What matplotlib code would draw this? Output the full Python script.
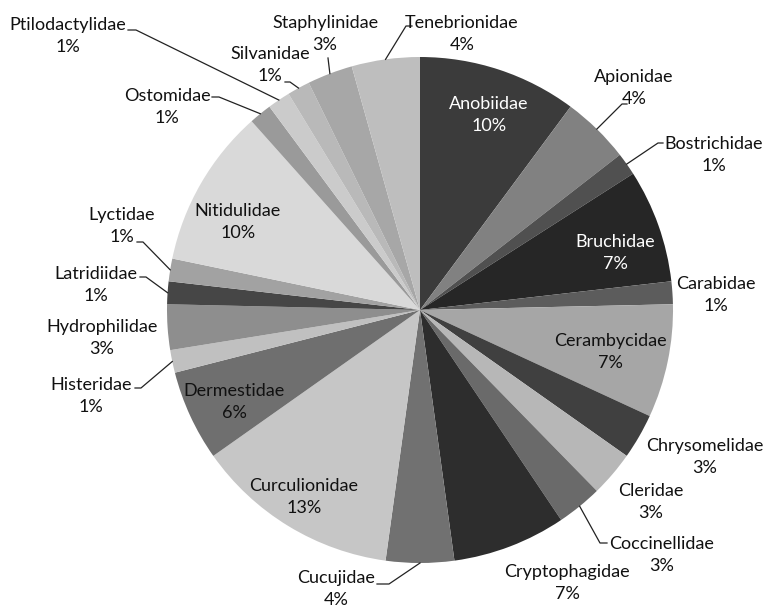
import numpy as np
import matplotlib
matplotlib.use("Agg")
import matplotlib.pyplot as plt

# families and number of specimens (counts, total 69)
families = ["Anobiidae", "Apionidae", "Bostrichidae", "Bruchidae", "Carabidae",
            "Cerambycidae", "Chrysomelidae", "Cleridae", "Coccinellidae",
            "Cryptophagidae", "Cucujidae", "Curculionidae", "Dermestidae",
            "Histeridae", "Hydrophilidae", "Latridiidae", "Lyctidae",
            "Nitidulidae", "Ostomidae", "Ptilodactylidae", "Silvanidae",
            "Staphylinidae", "Tenebrionidae"]
counts = [7, 3, 1, 5, 1, 5, 2, 2, 2, 5, 3, 9, 4, 1, 2, 1, 1, 7, 1, 1, 1, 2, 3]

grays = ["#3b3b3b", "#818181", "#505050", "#262626", "#5c5c5c", "#a6a6a6",
         "#404040", "#b7b7b7", "#6a6a6a", "#2d2d2d", "#717171", "#c6c6c6",
         "#6f6f6f", "#c0c0c0", "#8e8e8e", "#464646", "#a2a2a2", "#d9d9d9",
         "#9a9a9a", "#cbcbcb", "#b9b9b9", "#a7a7a7", "#bebebe"]

W, H = 767, 608
CX, CY, R = 420, 310, 253


def px(x, y):
    # pixel position -> data units (pie radius = 1)
    return (x - CX) / R, (CY - y) / R


# label centres (pixels), and for outside labels the elbow of the leader line
label_pos = {
    "Anobiidae": (489, 115), "Apionidae": (634, 88), "Bostrichidae": (714, 155),
    "Bruchidae": (615, 253), "Carabidae": (716, 295), "Cerambycidae": (610, 352),
    "Chrysomelidae": (705, 457), "Cleridae": (651, 502), "Coccinellidae": (662, 555),
    "Cryptophagidae": (567, 583), "Cucujidae": (336, 589), "Curculionidae": (304, 497),
    "Dermestidae": (234, 402), "Histeridae": (91, 396), "Hydrophilidae": (102, 338),
    "Latridiidae": (96, 285), "Lyctidae": (122, 226), "Nitidulidae": (238, 222),
    "Ostomidae": (167, 107), "Ptilodactylidae": (68, 36), "Silvanidae": (270, 65),
    "Staphylinidae": (325, 34), "Tenebrionidae": (462, 34),
}
leaders = {
    "Tenebrionidae": [(412, 26), (406, 26)],
    "Staphylinidae": [(328, 58)],
    "Silvanidae": [(285, 82), (290, 82)],
    "Ptilodactylidae": [(128, 30), (136, 30)],
    "Ostomidae": [(212, 97), (219, 97)],
    "Lyctidae": [(137, 242), (143, 242)],
    "Latridiidae": [(140, 277), (146, 277)],
    "Histeridae": [(135, 388), (141, 388)],
    "Cucujidae": [(377, 584), (389, 584)],
    "Coccinellidae": [(607, 543), (600, 543)],
    "Apionidae": [(627, 104), (622, 104)],
    "Bostrichidae": [(663, 143), (658, 143)],
}
white_text = ["Anobiidae", "Bruchidae"]

fig = plt.figure(figsize=(W / 100, H / 100), dpi=100)
ax = fig.add_axes([0, 0, 1, 1])
ax.pie(counts, colors=grays, startangle=90, counterclock=False,
       radius=1, wedgeprops=dict(linewidth=0))
ax.set_aspect("auto")
ax.set_xlim(-CX / R, (W - CX) / R)
ax.set_ylim(-(H - CY) / R, CY / R)
ax.axis("off")

total = sum(counts)
angles = np.cumsum([0] + counts) / total * 360.0
for i, name in enumerate(families):
    pct = counts[i] / total * 100
    tx, ty = px(*label_pos[name])
    ax.text(tx, ty, f"{name}\n{pct:.0f}%", ha="center", va="center",
            fontsize=13, family=["Lato", "DejaVu Sans"], linespacing=1.45,
            color="white" if name in white_text else "#111111")
    if name in leaders:
        mid = np.radians((angles[i] + angles[i + 1]) / 2)
        pts = [px(*p) for p in leaders[name]]
        pts.append((np.sin(mid), np.cos(mid)))
        xs, ys = zip(*pts)
        ax.plot(xs, ys, color="#222222", lw=0.9)

fig.savefig("out.png", dpi=100, facecolor="white")
